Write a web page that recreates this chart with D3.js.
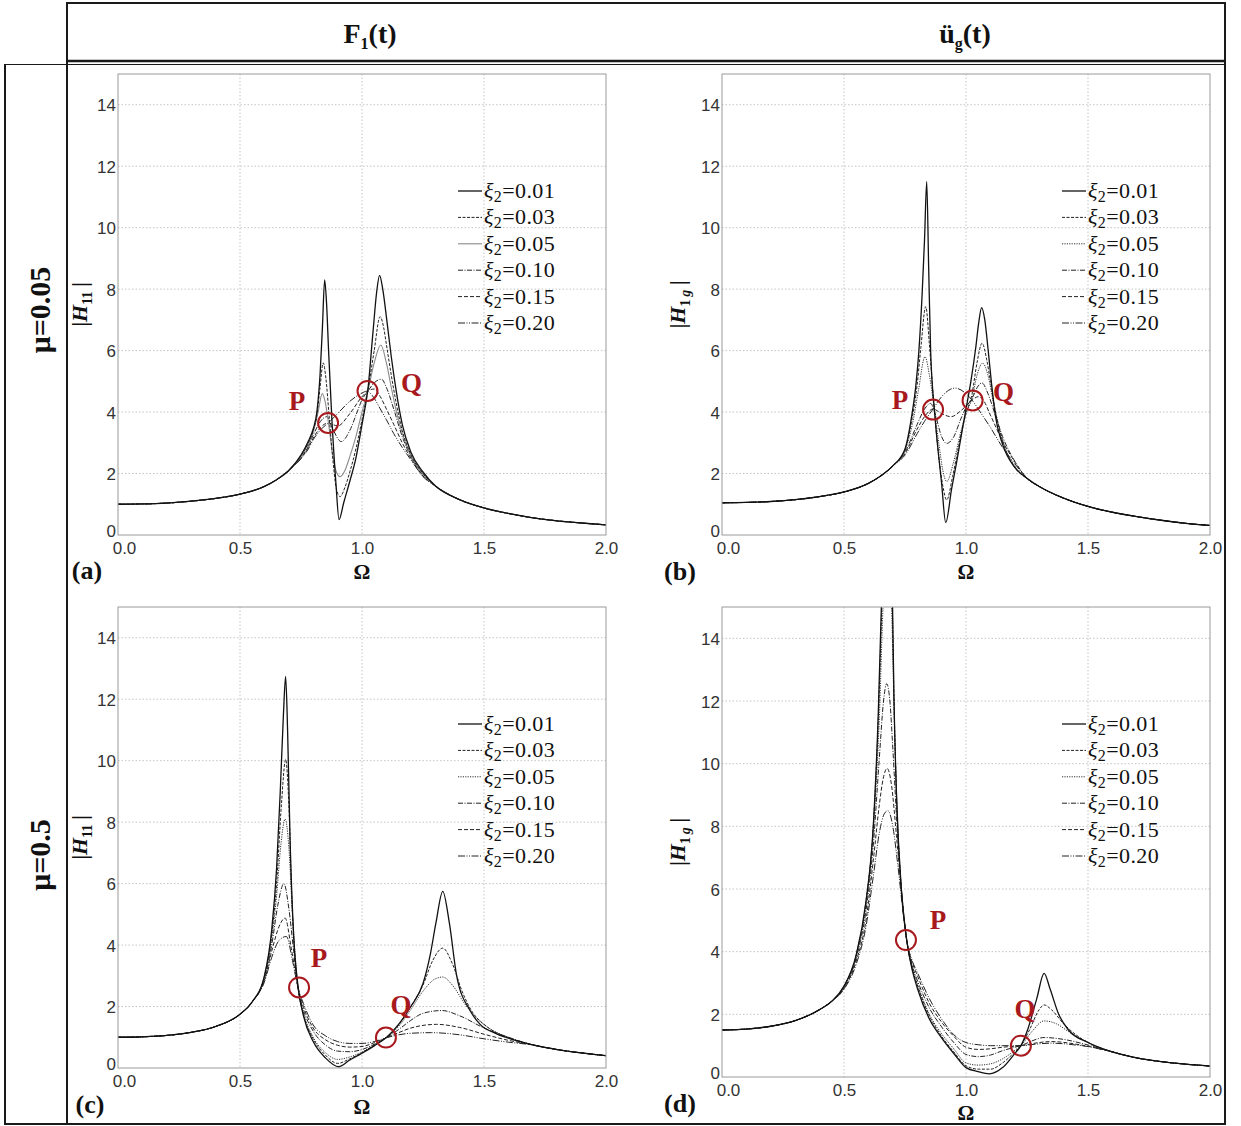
<!DOCTYPE html>
<html>
<head>
<meta charset="utf-8">
<script src="https://cdn.jsdelivr.net/npm/d3@7"></script>
<style>
  body { margin: 0; background: #fff; }
  svg { display: block; }
  .tick text { font-family: "Liberation Sans", Arial, sans-serif; font-size: 17px; fill: #333; }
  .serif { font-family: "Liberation Serif", "Times New Roman", serif; }
</style>
</head>
<body>
<svg id="fig" width="1241" height="1126"></svg>
<script>
// damping ratios of the TMD, one curve per value
const xiLabels = ["0.01", "0.03", "0.05", "0.10", "0.15", "0.20"];
const xTicks = [0, 0.5, 1.0, 1.5, 2.0];
const yTicks = [0, 2, 4, 6, 8, 10, 12, 14];

// ---- (a) mu=0.05, force F1(t), |H11| ----
const tailLoA = [[0,1.0],[0.1,1.01],[0.2,1.04],[0.3,1.1],[0.4,1.19],[0.5,1.33],[0.6,1.58],[0.65,1.8],[0.7,2.1]];
const tailHiA = [[1.3,1.6],[1.4,1.15],[1.5,0.88],[1.6,0.7],[1.7,0.56],[1.8,0.46],[1.9,0.39],[2.0,0.33]];
const a001 = [[0.75,2.6],[0.78,3.05],[0.8,3.45],[0.815,4.0],[0.828,5.2],[0.838,6.8],[0.847,8.3],[0.855,7.5],[0.863,6.0],[0.876,3.85],[0.893,1.7],[0.906,0.5],[0.925,1.05],[0.95,1.75],[0.975,2.5],[1.0,3.6],[1.025,4.8],[1.045,6.6],[1.06,7.9],[1.072,8.45],[1.085,8.0],[1.1,7.1],[1.12,5.8],[1.14,4.7],[1.165,3.6],[1.2,2.7],[1.25,2.05]];
const a003 = [[0.75,2.58],[0.78,3.0],[0.8,3.4],[0.815,3.9],[0.828,4.8],[0.841,5.6],[0.852,5.1],[0.865,3.9],[0.88,2.5],[0.895,1.5],[0.91,1.25],[0.93,1.55],[0.95,2.05],[0.975,2.8],[1.0,3.75],[1.025,4.75],[1.05,6.0],[1.074,7.1],[1.09,6.7],[1.1,6.2],[1.12,5.2],[1.14,4.3],[1.165,3.4],[1.2,2.62],[1.25,2.0]];
const a005 = [[0.75,2.56],[0.78,2.95],[0.8,3.35],[0.82,4.0],[0.837,4.6],[0.85,4.3],[0.865,3.5],[0.88,2.6],[0.895,2.05],[0.91,1.9],[0.93,2.1],[0.95,2.55],[0.975,3.2],[1.0,4.0],[1.025,4.72],[1.05,5.6],[1.077,6.18],[1.1,5.6],[1.12,4.8],[1.14,4.05],[1.165,3.3],[1.2,2.58],[1.25,1.98]];
const a010 = [[0.75,2.52],[0.78,2.9],[0.8,3.25],[0.83,3.7],[0.856,3.85],[0.88,3.45],[0.915,3.04],[0.95,3.4],[0.98,4.0],[1.0,4.4],[1.025,4.69],[1.05,4.95],[1.08,5.07],[1.1,4.8],[1.13,4.1],[1.165,3.2],[1.2,2.55],[1.25,1.95]];
const a015 = [[0.75,2.5],[0.78,2.85],[0.8,3.15],[0.83,3.5],[0.861,3.64],[0.9,3.55],[0.95,3.95],[1.0,4.5],[1.025,4.69],[1.05,4.75],[1.075,4.5],[1.1,4.1],[1.13,3.6],[1.165,3.0],[1.2,2.5],[1.25,1.92]];
const a020 = [[0.75,2.48],[0.78,2.8],[0.8,3.1],[0.83,3.42],[0.861,3.64],[0.9,3.95],[0.95,4.35],[1.0,4.62],[1.02,4.68],[1.05,4.45],[1.075,4.1],[1.1,3.75],[1.13,3.3],[1.165,2.85],[1.2,2.45],[1.25,1.9]];

// ---- (b) mu=0.05, ground acceleration, |H1g| ----
const tailLoB = [[0,1.05],[0.1,1.06],[0.2,1.09],[0.3,1.15],[0.4,1.25],[0.5,1.4],[0.6,1.68],[0.65,1.92],[0.7,2.25]];
const tailHiB = [[1.3,1.58],[1.4,1.2],[1.5,0.93],[1.6,0.74],[1.7,0.6],[1.8,0.48],[1.9,0.38],[2.0,0.31]];
const b001 = [[0.75,2.8],[0.777,3.85],[0.795,4.9],[0.807,6.0],[0.82,7.8],[0.83,9.6],[0.839,11.5],[0.847,8.7],[0.855,6.0],[0.873,3.85],[0.9,1.68],[0.917,0.4],[0.941,1.5],[0.96,2.3],[0.982,3.3],[1.0,4.1],[1.02,5.0],[1.04,6.1],[1.052,6.9],[1.064,7.4],[1.077,7.0],[1.091,6.0],[1.105,4.9],[1.12,3.9],[1.15,2.95],[1.2,2.2],[1.25,1.85]];
const b003 = [[0.75,2.78],[0.777,3.7],[0.8,4.9],[0.815,6.1],[0.835,7.43],[0.85,6.2],[0.865,4.6],[0.885,2.8],[0.905,1.6],[0.921,1.14],[0.945,1.9],[0.97,2.9],[1.0,3.95],[1.025,4.6],[1.045,5.6],[1.066,6.24],[1.085,5.7],[1.1,5.0],[1.12,4.05],[1.15,3.05],[1.2,2.2],[1.25,1.84]];
const b005 = [[0.75,2.75],[0.78,3.6],[0.805,4.7],[0.832,5.8],[0.85,5.2],[0.87,4.1],[0.89,2.9],[0.905,2.1],[0.921,1.74],[0.95,2.4],[0.98,3.4],[1.0,3.95],[1.025,4.45],[1.045,5.2],[1.068,5.59],[1.09,5.2],[1.11,4.4],[1.13,3.7],[1.16,2.85],[1.2,2.25],[1.25,1.83]];
const b010 = [[0.75,2.7],[0.8,3.6],[0.83,4.1],[0.855,4.28],[0.875,3.9],[0.9,3.2],[0.921,2.98],[0.95,3.2],[0.98,3.8],[1.0,4.15],[1.025,4.45],[1.05,4.85],[1.065,4.95],[1.09,4.6],[1.12,3.9],[1.15,3.2],[1.2,2.4],[1.25,1.85]];
const b015 = [[0.75,2.65],[0.8,3.45],[0.83,3.85],[0.865,4.1],[0.9,3.95],[0.939,3.85],[0.98,4.05],[1.025,4.39],[1.05,4.5],[1.07,4.4],[1.1,3.9],[1.15,3.05],[1.2,2.38],[1.25,1.85]];
const b020 = [[0.75,2.6],[0.8,3.3],[0.83,3.7],[0.865,4.1],[0.9,4.5],[0.955,4.78],[1.0,4.6],[1.025,4.39],[1.05,4.1],[1.1,3.5],[1.15,2.85],[1.2,2.32],[1.25,1.84]];

// ---- (c) mu=0.5, force F1(t), |H11| ----
const tailLoC = [[0,1.0],[0.1,1.015],[0.2,1.06],[0.3,1.16],[0.4,1.35],[0.5,1.75],[0.55,2.15]];
const tailHiC = [[1.7,0.75],[1.8,0.6],[1.9,0.49],[2.0,0.40]];
const c001 = [[0.6,3.0],[0.63,4.5],[0.65,6.5],[0.665,9.0],[0.678,11.5],[0.687,12.74],[0.695,11.0],[0.705,7.5],[0.72,4.3],[0.738,2.65],[0.76,1.7],[0.8,0.86],[0.85,0.33],[0.905,0.04],[0.95,0.26],[1.0,0.48],[1.05,0.72],[1.098,0.98],[1.15,1.42],[1.2,2.0],[1.25,2.75],[1.28,3.7],[1.303,4.72],[1.331,5.75],[1.358,4.72],[1.388,3.0],[1.443,1.87],[1.484,1.42],[1.55,1.12],[1.6,0.97]];
const c003 = [[0.6,2.98],[0.63,4.35],[0.65,6.0],[0.67,8.6],[0.687,10.04],[0.7,8.6],[0.712,5.6],[0.725,3.6],[0.738,2.6],[0.76,1.75],[0.8,0.95],[0.85,0.42],[0.9,0.15],[0.95,0.3],[1.0,0.5],[1.05,0.74],[1.098,0.98],[1.15,1.4],[1.2,2.0],[1.25,2.7],[1.29,3.5],[1.331,3.9],[1.37,3.4],[1.41,2.5],[1.45,1.85],[1.5,1.42],[1.55,1.15],[1.6,0.98]];
const c005 = [[0.6,2.96],[0.63,4.2],[0.65,5.6],[0.668,7.3],[0.685,8.1],[0.7,7.2],[0.715,5.0],[0.738,2.6],[0.76,1.8],[0.8,1.0],[0.85,0.5],[0.9,0.28],[0.95,0.36],[1.0,0.52],[1.05,0.75],[1.098,0.98],[1.15,1.35],[1.2,1.9],[1.25,2.5],[1.3,2.9],[1.331,2.96],[1.37,2.7],[1.42,2.1],[1.47,1.62],[1.52,1.3],[1.6,1.0]];
const c010 = [[0.6,2.9],[0.63,4.0],[0.655,5.3],[0.68,6.0],[0.7,5.2],[0.72,3.8],[0.738,2.6],[0.76,1.9],[0.8,1.2],[0.85,0.75],[0.9,0.55],[0.95,0.53],[1.0,0.6],[1.05,0.77],[1.098,0.98],[1.15,1.25],[1.2,1.55],[1.25,1.78],[1.327,1.87],[1.4,1.7],[1.5,1.3],[1.6,1.0]];
const c015 = [[0.6,2.85],[0.63,3.8],[0.66,4.6],[0.685,4.88],[0.71,3.9],[0.738,2.6],[0.76,2.0],[0.8,1.3],[0.85,0.92],[0.9,0.74],[0.95,0.68],[1.0,0.7],[1.05,0.82],[1.098,0.98],[1.15,1.15],[1.2,1.3],[1.306,1.42],[1.4,1.32],[1.5,1.1],[1.6,0.9]];
const c020 = [[0.6,2.8],[0.63,3.6],[0.66,4.15],[0.69,4.28],[0.715,3.5],[0.738,2.6],[0.76,2.1],[0.8,1.4],[0.85,1.05],[0.9,0.86],[0.95,0.8],[1.0,0.8],[1.05,0.86],[1.098,0.98],[1.15,1.08],[1.2,1.13],[1.285,1.15],[1.4,1.08],[1.5,0.95],[1.6,0.84]];

// ---- (d) mu=0.5, ground acceleration, |H1g| ----
const tailLoD = [[0,1.5],[0.1,1.53],[0.2,1.62],[0.3,1.8],[0.4,2.15],[0.45,2.42]];
const tailHiD = [[1.7,0.61],[1.8,0.49],[1.9,0.41],[2.0,0.35]];
const d001 = [[0.5,2.9],[0.55,3.9],[0.59,5.6],[0.62,8.0],[0.64,11.5],[0.655,15.5],[0.67,22],[0.68,26],[0.69,21],[0.698,15.5],[0.705,12.0],[0.716,8.84],[0.735,6.0],[0.757,4.37],[0.78,3.4],[0.8,2.85],[0.85,1.85],[0.9,1.25],[0.95,0.75],[1.0,0.3],[1.05,0.17],[1.095,0.1],[1.15,0.3],[1.2,0.75],[1.225,1.0],[1.25,1.45],[1.29,2.5],[1.32,3.31],[1.345,2.8],[1.38,2.0],[1.42,1.5],[1.5,1.1],[1.6,0.8]];
const d003 = [[0.5,2.9],[0.55,3.9],[0.59,5.6],[0.62,8.0],[0.64,11.3],[0.657,15.5],[0.68,21],[0.697,15.5],[0.705,12.0],[0.716,8.84],[0.735,6.0],[0.757,4.37],[0.78,3.45],[0.8,2.95],[0.85,1.95],[0.9,1.3],[0.95,0.8],[1.0,0.36],[1.05,0.25],[1.1,0.25],[1.15,0.45],[1.2,0.8],[1.225,1.0],[1.26,1.5],[1.3,2.15],[1.32,2.3],[1.35,2.15],[1.4,1.7],[1.45,1.35],[1.5,1.1],[1.6,0.8]];
const d005 = [[0.5,2.88],[0.55,3.85],[0.59,5.5],[0.62,7.9],[0.645,11.5],[0.66,15.0],[0.68,17],[0.695,15.0],[0.705,11.8],[0.716,8.8],[0.735,6.0],[0.757,4.37],[0.78,3.5],[0.8,3.0],[0.85,2.0],[0.9,1.38],[0.95,0.9],[1.0,0.45],[1.05,0.38],[1.1,0.42],[1.15,0.58],[1.2,0.85],[1.225,1.0],[1.27,1.45],[1.32,1.79],[1.37,1.7],[1.42,1.45],[1.5,1.1],[1.6,0.8]];
const d010 = [[0.5,2.85],[0.55,3.8],[0.59,5.3],[0.62,7.4],[0.645,10.2],[0.662,12.0],[0.675,12.55],[0.688,12.0],[0.7,10.5],[0.716,8.2],[0.735,6.0],[0.757,4.37],[0.78,3.55],[0.8,3.1],[0.85,2.2],[0.9,1.6],[0.95,1.1],[1.0,0.72],[1.05,0.65],[1.1,0.7],[1.15,0.84],[1.2,0.95],[1.225,1.0],[1.27,1.15],[1.32,1.26],[1.4,1.2],[1.5,1.02],[1.6,0.8]];
const d015 = [[0.5,2.82],[0.55,3.7],[0.59,5.0],[0.62,6.9],[0.645,8.7],[0.66,9.5],[0.677,9.85],[0.695,9.3],[0.715,7.7],[0.735,6.0],[0.757,4.37],[0.78,3.65],[0.8,3.25],[0.85,2.35],[0.9,1.75],[0.95,1.3],[1.0,0.95],[1.05,0.88],[1.1,0.9],[1.15,0.95],[1.225,1.0],[1.3,1.1],[1.35,1.13],[1.45,1.05],[1.5,0.98],[1.6,0.8]];
const d020 = [[0.5,2.8],[0.55,3.6],[0.59,4.8],[0.62,6.4],[0.645,7.8],[0.665,8.4],[0.68,8.5],[0.7,8.0],[0.72,6.8],[0.74,5.4],[0.757,4.37],[0.78,3.7],[0.8,3.35],[0.85,2.5],[0.9,1.85],[0.95,1.35],[1.0,1.1],[1.05,1.03],[1.1,1.0],[1.15,1.0],[1.225,1.0],[1.3,1.06],[1.35,1.08],[1.45,1.02],[1.5,0.97],[1.6,0.8]];

// fixed points P and Q  [Omega, |H|]
const pointsP = [[0.861, 3.645], [0.865, 4.08], [0.742, 2.62], [0.754, 4.37]];
const pointsQ = [[1.0225, 4.686], [1.027, 4.38], [1.098, 0.99], [1.225, 1.0]];

const lineStyles = [
  { dash: null, color: "#111", width: 1.3 },
  { dash: "3,1.5", color: "#222", width: 1 },
  { dash: "1.2,1.2", color: "#333", width: 1 },
  { dash: "5,1.5,1,1.5", color: "#222", width: 1 },
  { dash: "4,2", color: "#222", width: 1 },
  { dash: "7,1.5,1,1.5,1,1.5", color: "#222", width: 1 }
];

const join = (lo, mid, hi) => lo.concat(mid, hi);

const panels = [
  { id: "a", left: 118, top: 74, bottom: 535, sub: "11", g: false,
    series: [a001, a003, a005, a010, a015, a020].map(s => join(tailLoA, s, tailHiA)),
    pOff: [-31, -22], qOff: [44, -8], tag: [-31, 36], omega: 44, ylabX: -31, grey05: true },
  { id: "b", left: 722, top: 74, bottom: 535, sub: "1", g: true,
    series: [b001, b003, b005, b010, b015, b020].map(s => join(tailLoB, s, tailHiB)),
    pOff: [-33, -10], qOff: [31, -8], tag: [-42, 37], omega: 44, ylabX: -37 },
  { id: "c", left: 118, top: 607, bottom: 1068, sub: "11", g: false,
    series: [c001, c003, c005, c010, c015, c020].map(s => join(tailLoC, s, tailHiC)),
    pOff: [20, -29], qOff: [15, -33], tag: [-28, 37], omega: 46, ylabX: -31 },
  { id: "d", left: 722, top: 607, bottom: 1077, sub: "1", g: true,
    series: [d001, d003, d005, d010, d015, d020].map(s => join(tailLoD, s, tailHiD)),
    pOff: [32, -20], qOff: [4, -37], tag: [-42, 27], omega: 43, ylabX: -37 }
];

const svg = d3.select("#fig");
const defs = svg.append("defs");
const W = 488;
const red = "#a8191e";

function drawPanel(p, k) {
  const x = d3.scaleLinear().domain([0, 2]).range([p.left, p.left + W]);
  const y = d3.scaleLinear().domain([0, 15]).range([p.bottom, p.top]);
  const g = svg.append("g");

  // dotted grid
  g.selectAll(".gx").data(xTicks.slice(1, -1)).join("line")
    .attr("x1", d => x(d)).attr("x2", d => x(d))
    .attr("y1", p.top).attr("y2", p.bottom)
    .attr("stroke", "#c4c4c4").attr("stroke-dasharray", "1.5,2");
  g.selectAll(".gy").data(yTicks.slice(1)).join("line")
    .attr("x1", p.left).attr("x2", p.left + W)
    .attr("y1", d => y(d)).attr("y2", d => y(d))
    .attr("stroke", "#c4c4c4").attr("stroke-dasharray", "1.5,2");

  defs.append("clipPath").attr("id", "clip-" + p.id)
    .append("rect").attr("x", p.left).attr("y", p.top)
    .attr("width", W).attr("height", p.bottom - p.top);

  const line = d3.line().x(d => x(d[0])).y(d => y(d[1])).curve(d3.curveMonotoneX);
  const styleOf = i => (p.grey05 && i === 2) ? { dash: null, color: "#8a8a8a", width: 1.1 } : lineStyles[i];

  g.append("g").attr("clip-path", `url(#clip-${p.id})`)
    .selectAll("path").data(p.series.slice().reverse()).join("path")
    .attr("d", line)
    .attr("fill", "none")
    .each(function (d, j) {
      const st = styleOf(p.series.length - 1 - j);
      d3.select(this).attr("stroke", st.color).attr("stroke-width", st.width)
        .attr("stroke-dasharray", st.dash);
    });

  // frame
  g.append("rect").attr("x", p.left).attr("y", p.top)
    .attr("width", W).attr("height", p.bottom - p.top)
    .attr("fill", "none").attr("stroke", "#9a9a9a").attr("stroke-width", 1);

  // axes (labels only)
  const ax = g.append("g").attr("transform", `translate(0,${p.bottom})`)
    .call(d3.axisBottom(x).tickValues(xTicks).tickFormat(d3.format(".1f")).tickSize(0).tickPadding(7));
  ax.select(".domain").remove();
  ax.selectAll(".tick text").filter(d => d === 0).attr("dx", 6);
  const ay = g.append("g").attr("transform", `translate(${p.left},0)`)
    .call(d3.axisLeft(y).tickValues(yTicks).tickFormat(d3.format("d")).tickSize(0).tickPadding(2));
  ay.select(".domain").remove();
  ay.selectAll(".tick text").attr("dy", "0.36em");
  ay.selectAll(".tick text").filter(d => d === 0).attr("dy", "0.1em");

  // y title |H11| or |H1g|
  const yl = g.append("text").attr("class", "serif")
    .attr("transform", `translate(${p.left + p.ylabX},${(p.top + p.bottom) / 2}) rotate(-90)`)
    .attr("text-anchor", "middle").attr("font-size", 22).attr("font-weight", "bold").attr("fill", "#111");
  yl.append("tspan").text("|");
  yl.append("tspan").attr("font-style", "italic").text("H");
  yl.append("tspan").attr("font-size", 14).attr("dy", 5).text(p.sub);
  if (p.g) yl.append("tspan").attr("font-size", 14).attr("font-style", "italic").text("\u2009g");
  yl.append("tspan").attr("dy", -5).text("\u2009|");

  // x title
  g.append("text").attr("class", "serif")
    .attr("x", x(1)).attr("y", p.bottom + p.omega)
    .attr("text-anchor", "middle").attr("font-size", 21).attr("font-weight", "bold").attr("fill", "#111")
    .text("\u03A9");

  // panel tag
  g.append("text").attr("class", "serif")
    .attr("x", p.left + p.tag[0]).attr("y", p.bottom + p.tag[1] + 8)
    .attr("text-anchor", "middle").attr("font-size", 26).attr("font-weight", "bold").attr("fill", "#111")
    .text(`(${p.id})`);

  // legend
  const lg = g.append("g").attr("transform", `translate(${p.left + 340},${p.top + 117})`);
  xiLabels.forEach((lab, i) => {
    const st = styleOf(i);
    const yy = i * 26.4;
    lg.append("line").attr("x1", 0).attr("x2", 24).attr("y1", yy).attr("y2", yy)
      .attr("stroke", st.color).attr("stroke-width", st.width).attr("stroke-dasharray", st.dash);
    const t = lg.append("text").attr("class", "serif").attr("x", 26).attr("y", yy + 7)
      .attr("font-size", 22).attr("letter-spacing", 0.4).attr("fill", "#111");
    t.append("tspan").attr("font-style", "italic").text("\u03BE");
    t.append("tspan").attr("font-size", 16).attr("dy", 4).text("2");
    t.append("tspan").attr("dy", -4).text("=" + lab);
  });

  // P and Q markers
  const marks = [
    { name: "P", pt: pointsP[k], off: p.pOff },
    { name: "Q", pt: pointsQ[k], off: p.qOff }
  ];
  marks.forEach(m => {
    g.append("circle").attr("cx", x(m.pt[0])).attr("cy", y(m.pt[1])).attr("r", 10)
      .attr("fill", "none").attr("stroke", red).attr("stroke-width", 2);
    g.append("text").attr("class", "serif")
      .attr("x", x(m.pt[0]) + m.off[0]).attr("y", y(m.pt[1]) + m.off[1] + 9)
      .attr("text-anchor", "middle").attr("font-size", 27).attr("font-weight", "bold").attr("fill", red)
      .text(m.name);
  });
}

panels.forEach(drawPanel);

// ---- table frame ----
const frame = svg.append("g").attr("stroke", "#1a1a1a").attr("fill", "none");
frame.append("line").attr("x1", 67).attr("x2", 1225).attr("y1", 3).attr("y2", 3).attr("stroke-width", 2);
frame.append("line").attr("x1", 67).attr("x2", 1225).attr("y1", 61).attr("y2", 61).attr("stroke-width", 2.5);
frame.append("line").attr("x1", 5).attr("x2", 1225).attr("y1", 64.5).attr("y2", 64.5).attr("stroke-width", 1.2);
frame.append("line").attr("x1", 67).attr("x2", 67).attr("y1", 2).attr("y2", 1125).attr("stroke-width", 2);
frame.append("line").attr("x1", 5).attr("x2", 5).attr("y1", 64).attr("y2", 1125).attr("stroke-width", 2);
frame.append("line").attr("x1", 1225).attr("x2", 1225).attr("y1", 2).attr("y2", 1125).attr("stroke-width", 2);
frame.append("line").attr("x1", 4).attr("x2", 1226).attr("y1", 1124).attr("y2", 1124).attr("stroke-width", 2);

// column headers
const h1 = svg.append("text").attr("class", "serif").attr("x", 370).attr("y", 43)
  .attr("text-anchor", "middle").attr("font-size", 28).attr("font-weight", "bold").attr("fill", "#111");
h1.append("tspan").text("F");
h1.append("tspan").attr("font-size", 16).attr("dy", 6).text("1");
h1.append("tspan").attr("dy", -6).text("(t)");
const h2 = svg.append("text").attr("class", "serif").attr("x", 965).attr("y", 43)
  .attr("text-anchor", "middle").attr("font-size", 28).attr("font-weight", "bold").attr("fill", "#111");
h2.append("tspan").text("\u00FC");
h2.append("tspan").attr("font-size", 16).attr("dy", 6).text("g");
h2.append("tspan").attr("dy", -6).text("(t)");

// row headers
[["\u03BC=0.05", 310], ["\u03BC=0.5", 855]].forEach(([lab, cy]) => {
  svg.append("text").attr("class", "serif")
    .attr("transform", `translate(50,${cy}) rotate(-90)`)
    .attr("text-anchor", "middle").attr("font-size", 30).attr("font-weight", "bold").attr("fill", "#111")
    .text(lab);
});
</script>
</body>
</html>
